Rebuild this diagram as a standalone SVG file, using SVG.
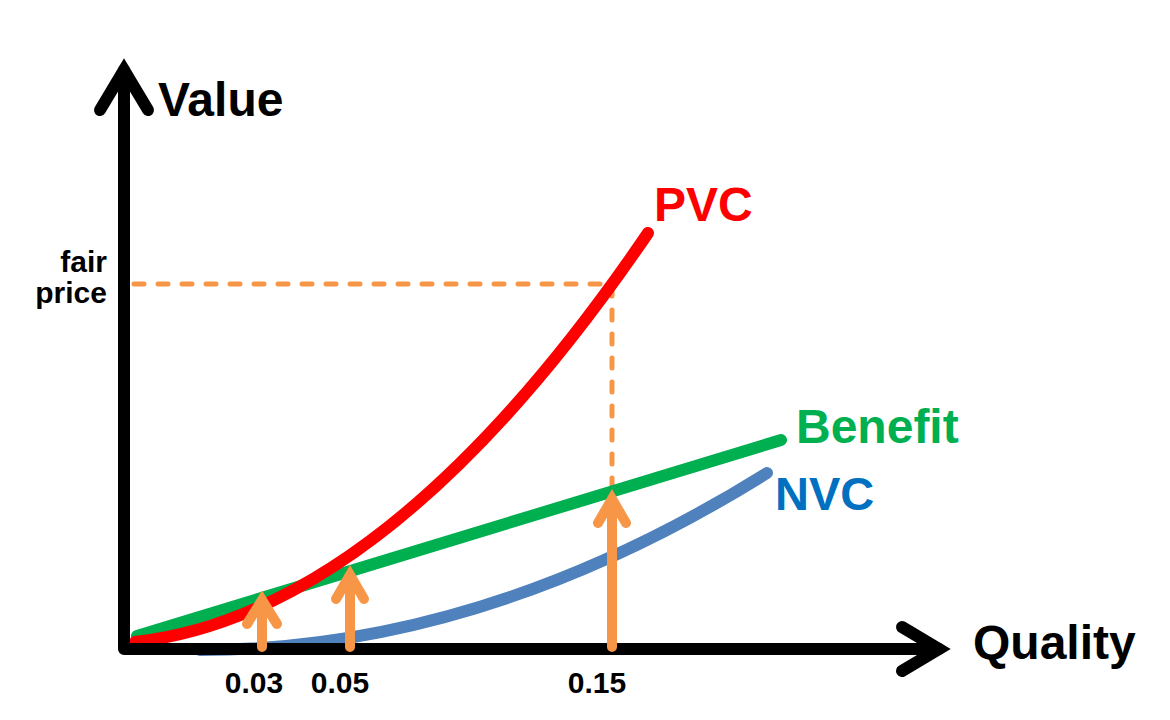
<svg xmlns="http://www.w3.org/2000/svg" width="1170" height="720" viewBox="0 0 1170 720">
<style>
.lbl{font-family:"Liberation Sans",Arial,sans-serif;font-weight:bold}
.curve{fill:none;stroke-width:12;stroke-linecap:round}
.axis{fill:none;stroke:#000;stroke-width:12;stroke-linecap:round}
.guide{fill:none;stroke:#F79646;stroke-width:5;stroke-linecap:round;stroke-dasharray:10 14}
.marker{fill:none;stroke:#F79646;stroke-width:10;stroke-linecap:round;stroke-linejoin:miter;stroke-miterlimit:10}
</style>
<rect width="1170" height="720" fill="#fff"/>
<g id="guides">
<path class="guide" d="M134,284 H612 V490"/>
</g>
<g id="curves">
<path id="nvc" class="curve" stroke="#4F81BD" d="M200,650 Q483.5,650 767,473"/>
<path id="benefit" class="curve" stroke="#00B050" d="M137,636 L781,440"/>
<path id="pvc" class="curve" stroke="#FF0000" d="M135,642 C306,622.7 477,484 648,233"/>
</g>
<g id="axes">
<path class="axis" stroke-linejoin="round" d="M124,70 V649 H939"/>
<path class="axis" stroke-linejoin="miter" d="M100,110 L124,70 L148,110"/>
<path class="axis" stroke-linejoin="miter" d="M902,627 L939,649 L902,671"/>
</g>
<g id="connectors">
<path class="marker" d="M262,647 V600 M247,624 L262,600 L277,624"/>
<path class="marker" d="M350,647 V575 M336,599 L350,575 L364,599"/>
<path class="marker" d="M612,647 V499 M598,523 L612,499 L626,523"/>
</g>
<g id="labels">
<text class="lbl" x="158" y="116" font-size="48" fill="#000">Value</text>
<text class="lbl" x="973" y="659" font-size="48" fill="#000">Quality</text>
<text class="lbl" x="107" y="272" font-size="30" fill="#000" text-anchor="end">fair</text>
<text class="lbl" x="107" y="303" font-size="30" fill="#000" text-anchor="end">price</text>
<text class="lbl" x="654" y="221" font-size="48" fill="#FF0000">PVC</text>
<text class="lbl" x="796" y="443" font-size="48" fill="#00B050">Benefit</text>
<text class="lbl" x="775" y="510" font-size="47" fill="#0070C0">NVC</text>
<text class="lbl" x="254" y="693" font-size="30" fill="#000" text-anchor="middle">0.03</text>
<text class="lbl" x="340" y="693" font-size="30" fill="#000" text-anchor="middle">0.05</text>
<text class="lbl" x="597" y="693" font-size="30" fill="#000" text-anchor="middle">0.15</text>
</g>
</svg>
